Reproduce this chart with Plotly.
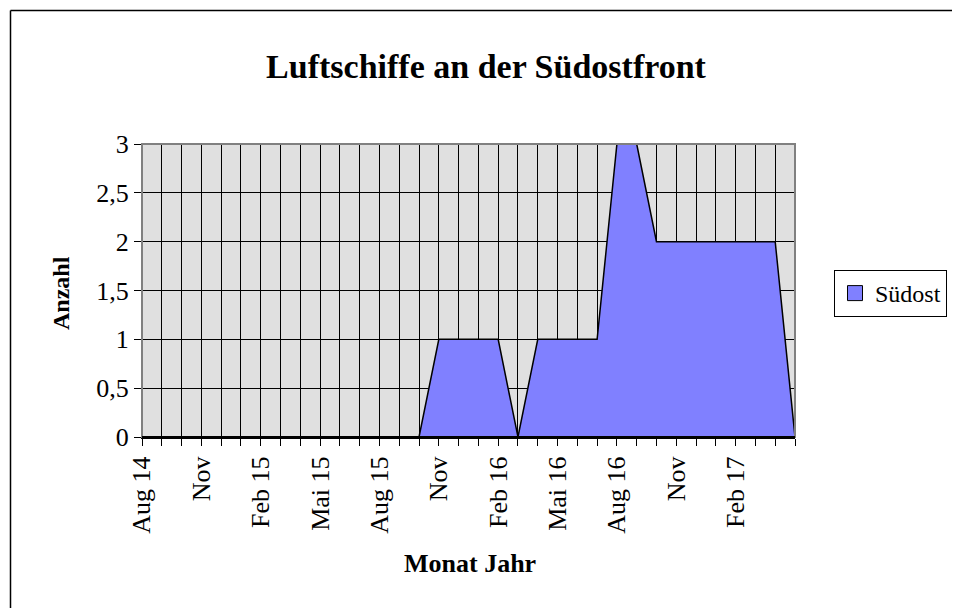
import plotly.graph_objects as go

months = ["Aug 14", "Sep 14", "Okt 14", "Nov 14", "Dez 14", "Jan 15", "Feb 15", "Mär 15",
          "Apr 15", "Mai 15", "Jun 15", "Jul 15", "Aug 15", "Sep 15", "Okt 15", "Nov 15",
          "Dez 15", "Jan 16", "Feb 16", "Mär 16", "Apr 16", "Mai 16", "Jun 16", "Jul 16",
          "Aug 16", "Sep 16", "Okt 16", "Nov 16", "Dez 16", "Jan 17", "Feb 17", "Mär 17",
          "Apr 17", "Mai 17"]
suedost = [0, 0, 0, 0, 0, 0, 0, 0, 0, 0, 0, 0, 0, 0, 0, 1, 1, 1, 1, 0, 1, 1, 1, 1,
           3, 3, 2, 2, 2, 2, 2, 2, 2, 0]
tick_labels = ["Aug 14", "", "", "Nov", "", "", "Feb 15", "", "", "Mai 15", "", "",
               "Aug 15", "", "", "Nov", "", "", "Feb 16", "", "", "Mai 16", "", "",
               "Aug 16", "", "", "Nov", "", "", "Feb 17", "", "", ""]

x_idx = list(range(len(months)))
FONT = "Liberation Serif, Times New Roman, serif"

fig = go.Figure()
fig.add_trace(go.Scatter(
    x=x_idx, y=suedost, name="Südost", mode="lines", showlegend=False,
    fill="tozeroy", fillcolor="#8080FF",
    line=dict(color="#000000", width=1.5),
    customdata=months, hovertemplate="%{customdata}: %{y}<extra></extra>",
))
# legend entry with a square swatch
fig.add_trace(go.Scatter(
    x=[None], y=[None], name="Südost", mode="markers",
    marker=dict(symbol="square", size=15, color="#8080FF", line=dict(color="#000000", width=1)),
))

OFF = 8  # page body margin
L, R, T, B = 134, 173, 136, 179
W, H = 960, 608
pw, ph = W - L - R, H - T - B
fx = lambda px: (px - OFF - L) / pw
fy = lambda py: (H - B - (py - OFF)) / ph

fig.update_layout(
    width=W, height=H,
    margin=dict(l=L, r=R, t=T, b=B),
    paper_bgcolor="white", plot_bgcolor="#E0E0E0",
    separators=", ",
    font=dict(family=FONT, size=26, color="black"),
    title=dict(text="<b>Luftschiffe an der Südostfront</b>", x=(486 - OFF) / W, xanchor="center",
               y=1 - (66 - OFF) / H, yanchor="middle", font=dict(size=34, family=FONT)),
    showlegend=True,
    legend=dict(x=fx(834), xanchor="left", y=fy(270), yanchor="top",
                bordercolor="black", borderwidth=1, bgcolor="white",
                font=dict(size=24, family=FONT), itemwidth=30,
                tracegroupgap=0),
    xaxis=dict(
        range=[0, len(months) - 1], tickmode="array", tickvals=x_idx, ticktext=tick_labels,
        tickangle=-90, showgrid=True, gridcolor="#000000", gridwidth=1,
        ticks="outside", ticklen=7, tickcolor="#000000",
        showline=True, linecolor="#000000", linewidth=2, zeroline=False,
        tickfont=dict(size=26, family=FONT),
    ),
    yaxis=dict(
        range=[0, 3], tickmode="linear", tick0=0, dtick=0.5,
        showgrid=True, gridcolor="#000000", gridwidth=1,
        ticks="outside", ticklen=7, tickcolor="#000000",
        showline=True, linecolor="#000000", linewidth=1, zeroline=False,
        tickfont=dict(size=26, family=FONT),
    ),
    annotations=[
        dict(text="<b>Monat Jahr</b>", xref="paper", yref="paper", x=fx(470), y=fy(563),
             xanchor="center", yanchor="middle", showarrow=False, font=dict(size=26, family=FONT)),
        dict(text="<b>Anzahl</b>", xref="paper", yref="paper", x=fx(61), y=fy(293),
             xanchor="center", yanchor="middle", showarrow=False, textangle=-90,
             font=dict(size=24, family=FONT)),
    ],
    shapes=[
        dict(type="rect", xref="paper", yref="paper", x0=0, x1=1, y0=0, y1=1,
             line=dict(color="#808080", width=2), layer="above"),
        dict(type="line", xref="paper", yref="paper", x0=0, x1=1, y0=0, y1=0,
             line=dict(color="#000000", width=2), layer="above"),
        dict(type="line", xref="paper", yref="paper", x0=fx(10.5), x1=fx(990),
             y0=fy(10.5), y1=fy(10.5), line=dict(color="#000000", width=1.5)),
        dict(type="line", xref="paper", yref="paper", x0=fx(10.5), x1=fx(10.5),
             y0=fy(10.5), y1=fy(640), line=dict(color="#000000", width=1.5)),
    ],
)

fig.write_html("out.html")
